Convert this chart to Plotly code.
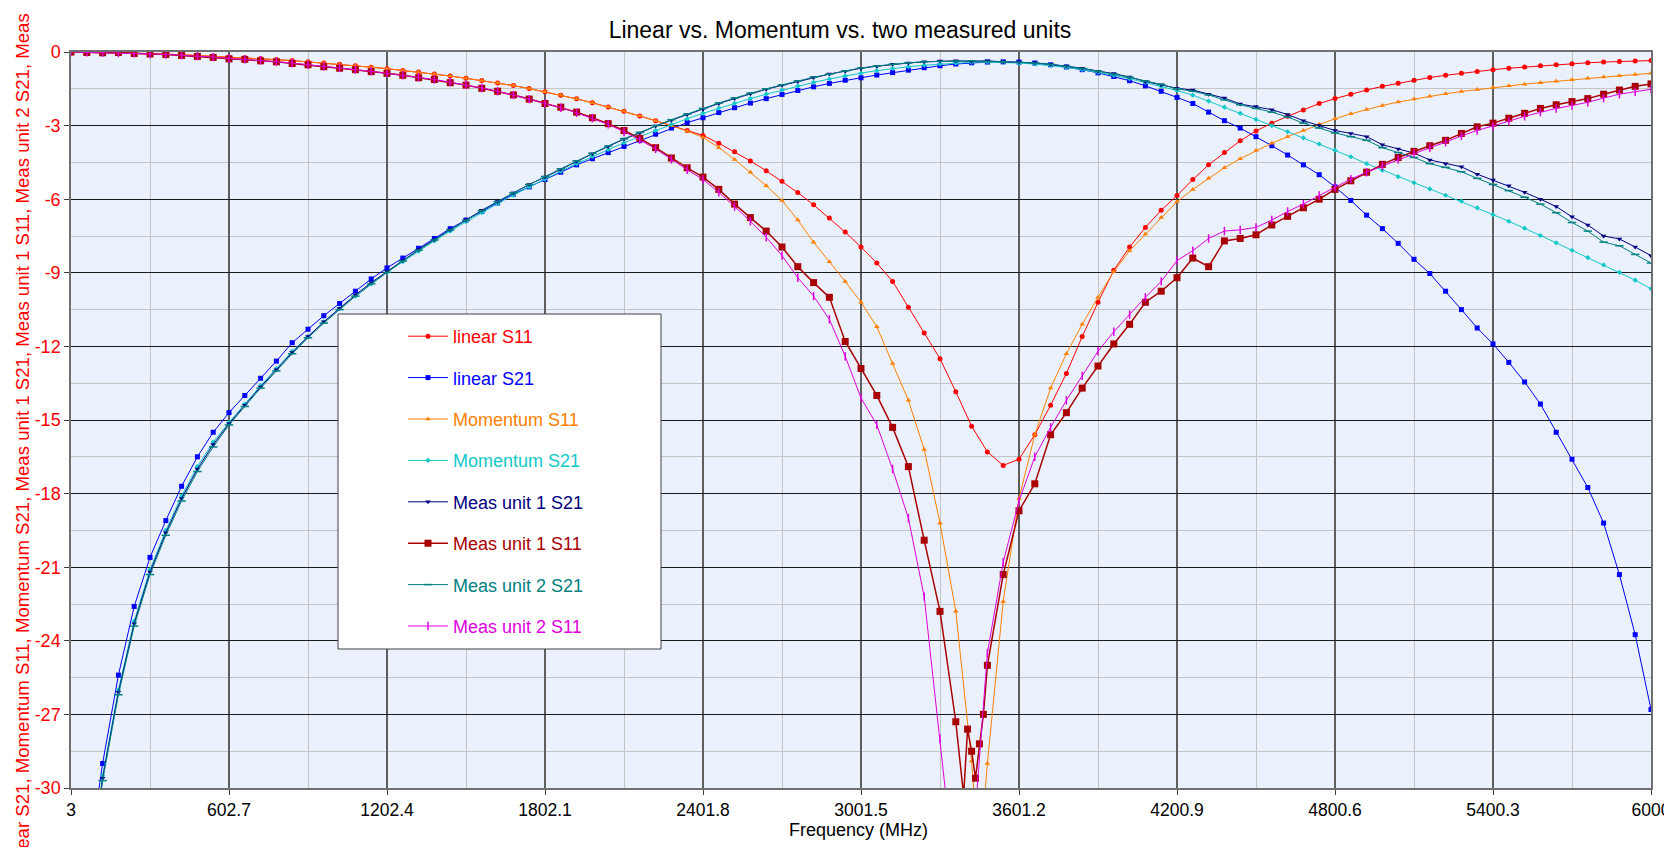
import numpy as np
import plotly.graph_objects as go

# frequency sweep (MHz), 101 points from 3 to 6000
FREQ = np.linspace(3, 6000, 101)

LIN_S11 = [0, -0.01, -0.02, -0.03, -0.05, -0.07, -0.09, -0.11, -0.14, -0.17,
           -0.2, -0.23, -0.27, -0.31, -0.35, -0.4, -0.45, -0.5, -0.56, -0.62,
           -0.68, -0.75, -0.82, -0.9, -0.98, -1.07, -1.16, -1.26, -1.37, -1.49,
           -1.62, -1.76, -1.91, -2.07, -2.24, -2.42, -2.61, -2.8, -3.0, -3.2,
           -3.4, -3.72, -4.07, -4.44, -4.84, -5.27, -5.73, -6.23, -6.77, -7.34,
           -7.95, -8.6, -9.35, -10.4, -11.45, -12.5, -13.85, -15.25, -16.3, -16.85,
           -16.6, -15.6, -14.4, -13.1, -11.6, -10.2, -8.9, -7.95, -7.15, -6.45,
           -5.85, -5.2, -4.6, -4.1, -3.62, -3.22, -2.9, -2.62, -2.36, -2.1,
           -1.9, -1.72, -1.55, -1.4, -1.27, -1.15, -1.04, -0.95, -0.87, -0.79,
           -0.72, -0.66, -0.61, -0.56, -0.52, -0.48, -0.44, -0.41, -0.39, -0.37, -0.35]

LIN_S21 = [None, -33.5, -29.0, -25.4, -22.6, -20.6, -19.1, -17.7, -16.5, -15.5,
           -14.7, -14.0, -13.3, -12.6, -11.85, -11.3, -10.75, -10.25, -9.75, -9.25,
           -8.8, -8.4, -8.0, -7.6, -7.2, -6.85, -6.5, -6.15, -5.8, -5.5,
           -5.2, -4.9, -4.6, -4.35, -4.1, -3.85, -3.6, -3.35, -3.1, -2.88,
           -2.68, -2.47, -2.27, -2.08, -1.9, -1.73, -1.57, -1.42, -1.28, -1.15,
           -1.05, -0.94, -0.84, -0.74, -0.64, -0.56, -0.49, -0.44, -0.41, -0.4,
           -0.41, -0.45, -0.52, -0.61, -0.72, -0.85, -1.0, -1.17, -1.38, -1.6,
           -1.85, -2.1, -2.45, -2.8, -3.1, -3.45, -3.82, -4.2, -4.6, -5.0,
           -5.5, -6.05, -6.65, -7.2, -7.8, -8.45, -9.03, -9.75, -10.5, -11.25,
           -11.9, -12.65, -13.45, -14.35, -15.5, -16.6, -17.75, -19.2, -21.3, -23.75, -26.8]

MOM_S11 = [0, -0.01, -0.02, -0.03, -0.05, -0.07, -0.09, -0.11, -0.14, -0.17,
           -0.2, -0.23, -0.27, -0.31, -0.35, -0.4, -0.45, -0.5, -0.56, -0.62,
           -0.68, -0.75, -0.82, -0.9, -0.98, -1.07, -1.16, -1.26, -1.37, -1.49,
           -1.62, -1.76, -1.91, -2.07, -2.24, -2.42, -2.61, -2.8, -3.0, -3.22,
           -3.48, -3.9, -4.38, -4.9, -5.45, -6.05, -6.85, -7.75, -8.55, -9.35,
           -10.2, -11.2, -12.7, -14.2, -16.2, -19.2, -22.8, -28.9, -29.0, -22.4,
           -18.2, -15.6, -13.7, -12.3, -11.1, -10.0, -8.95, -8.1, -7.42, -6.75,
           -6.1, -5.6, -5.15, -4.72, -4.35, -4.02, -3.72, -3.45, -3.2, -2.95,
           -2.72, -2.52, -2.34, -2.18, -2.04, -1.92, -1.8, -1.7, -1.61, -1.53,
           -1.45, -1.38, -1.31, -1.25, -1.19, -1.13, -1.07, -1.02, -0.97, -0.92, -0.87]

MOM_S21 = [None, -34.5, -29.5, -26.0, -23.2, -21.1, -19.5, -18.1, -16.9, -15.9,
           -15.1, -14.35, -13.6, -12.9, -12.2, -11.6, -11.0, -10.45, -9.95, -9.45,
           -8.98, -8.55, -8.12, -7.7, -7.3, -6.92, -6.55, -6.18, -5.83, -5.5,
           -5.18, -4.86, -4.55, -4.26, -3.98, -3.7, -3.45, -3.2, -2.95, -2.72,
           -2.5, -2.29, -2.09, -1.9, -1.72, -1.55, -1.39, -1.24, -1.1, -0.97,
           -0.86, -0.76, -0.67, -0.6, -0.54, -0.49, -0.45, -0.42, -0.41, -0.42,
           -0.45, -0.49, -0.55, -0.63, -0.72, -0.83, -0.95, -1.09, -1.24, -1.4,
           -1.57, -1.76, -2.0, -2.25, -2.5, -2.75, -3.0, -3.25, -3.5, -3.75,
           -4.0, -4.27, -4.55, -4.82, -5.08, -5.33, -5.58, -5.84, -6.08, -6.35,
           -6.63, -6.9, -7.18, -7.48, -7.78, -8.08, -8.38, -8.68, -8.98, -9.3, -9.65]

MEAS1_S21 = [None, -34.8, -29.6, -26.1, -23.3, -21.2, -19.6, -18.2, -17.0, -16.0,
             -15.15, -14.4, -13.65, -12.95, -12.25, -11.6, -11.0, -10.45, -9.9, -9.4,
             -8.95, -8.5, -8.05, -7.65, -7.25, -6.85, -6.45, -6.1, -5.75, -5.4,
             -5.1, -4.78, -4.45, -4.15, -3.85, -3.55, -3.3, -3.02, -2.78, -2.55,
             -2.33, -2.1, -1.9, -1.7, -1.52, -1.36, -1.2, -1.04, -0.9, -0.78,
             -0.66, -0.58, -0.5, -0.45, -0.4, -0.37, -0.36, -0.38, -0.36, -0.4,
             -0.41, -0.44, -0.5, -0.57, -0.66, -0.78, -0.88, -1.02, -1.2, -1.34,
             -1.48, -1.55, -1.72, -1.88, -2.12, -2.22, -2.35, -2.55, -2.8, -3.0,
             -3.2, -3.32, -3.45, -3.78, -3.95, -4.12, -4.4, -4.55, -4.68, -4.98,
             -5.22, -5.45, -5.72, -6.0, -6.3, -6.72, -7.05, -7.5, -7.62, -7.95, -8.3]

MEAS1_S11 = [0.0, -0.02, -0.03, -0.02, -0.06, -0.08, -0.1, -0.14, -0.18, -0.22,
             -0.28, -0.3, -0.36, -0.4, -0.47, -0.52, -0.6, -0.66, -0.72, -0.8,
             -0.87, -0.95, -1.05, -1.12, -1.25, -1.35, -1.48, -1.6, -1.75, -1.92,
             -2.1, -2.25, -2.45, -2.68, -2.92, -3.2, -3.52, -3.9, -4.32, -4.72,
             -5.1, -5.6, -6.2, -6.75, -7.3, -7.95, -8.75, -9.4, -10.0, -11.8,
             -12.9, -14.0, -15.3, -16.9, -19.9, -22.8, -27.3, -28.5, -25.0, -21.3,
             -18.7, -17.6, -15.6, -14.7, -13.7, -12.8, -11.9, -11.1, -10.2, -9.75,
             -9.2, -8.4, -8.75, -7.7, -7.6, -7.45, -7.05, -6.7, -6.35, -6.0,
             -5.6, -5.25, -4.9, -4.58, -4.3, -4.05, -3.82, -3.6, -3.32, -3.05,
             -2.9, -2.7, -2.5, -2.3, -2.15, -2.02, -1.9, -1.72, -1.55, -1.4, -1.3]

MEAS2_S21 = [None, -35.0, -29.7, -26.2, -23.4, -21.3, -19.7, -18.3, -17.1, -16.1,
             -15.2, -14.45, -13.7, -13.0, -12.3, -11.65, -11.05, -10.5, -9.95, -9.45,
             -8.98, -8.52, -8.08, -7.66, -7.25, -6.86, -6.47, -6.1, -5.74, -5.4,
             -5.08, -4.76, -4.44, -4.13, -3.83, -3.54, -3.28, -3.0, -2.76, -2.53,
             -2.3, -2.08, -1.88, -1.68, -1.5, -1.34, -1.18, -1.03, -0.9, -0.77,
             -0.65, -0.57, -0.5, -0.44, -0.4, -0.38, -0.37, -0.36, -0.38, -0.4,
             -0.42, -0.45, -0.5, -0.58, -0.67, -0.78, -0.9, -1.03, -1.18, -1.32,
             -1.5, -1.6, -1.75, -1.95, -2.15, -2.3, -2.45, -2.65, -2.9, -3.1,
             -3.3, -3.45, -3.6, -3.9, -4.1, -4.3, -4.55, -4.7, -4.88, -5.15,
             -5.4, -5.65, -5.92, -6.2, -6.55, -6.95, -7.3, -7.75, -7.9, -8.25, -8.6]

MEAS2_S11 = [0.0, -0.01, -0.03, -0.04, -0.05, -0.08, -0.1, -0.13, -0.17, -0.21,
             -0.26, -0.3, -0.34, -0.4, -0.45, -0.52, -0.58, -0.65, -0.72, -0.79,
             -0.87, -0.95, -1.03, -1.12, -1.23, -1.34, -1.47, -1.6, -1.75, -1.92,
             -2.1, -2.27, -2.48, -2.7, -2.95, -3.25, -3.58, -3.95, -4.38, -4.8,
             -5.2, -5.72, -6.3, -6.9, -7.55, -8.3, -9.2, -9.95, -10.9, -12.4,
             -14.1, -15.2, -17.0, -19.0, -22.2, -28.0, -34.0, -33.0, -24.5, -20.8,
             -18.3, -16.5, -15.3, -14.2, -13.2, -12.2, -11.4, -10.7, -10.0, -9.35,
             -8.5, -8.1, -7.6, -7.3, -7.25, -7.15, -6.85, -6.5, -6.2, -5.85,
             -5.5, -5.18, -4.9, -4.65, -4.38, -4.12, -3.9, -3.68, -3.42, -3.2,
             -3.02, -2.82, -2.62, -2.45, -2.3, -2.18, -2.05, -1.88, -1.72, -1.62, -1.52]

# extra samples read in the notch
NOTCH_FREQ_MOM = [3451]
MOM_S11_NOTCH = [-33.0]
NOTCH_FREQ_M1 = [3391, 3406, 3436, 3451, 3466]
MEAS1_S11_NOTCH = [-30.3, -27.6, -29.6, -28.2, -27.0]

X_TICKS = [3, 602.7, 1202.4, 1802.1, 2401.8, 3001.5, 3601.2, 4200.9, 4800.6, 5400.3, 6000]
Y_TICKS = [0, -3, -6, -9, -12, -15, -18, -21, -24, -27, -30]

NAMES = ["linear S11", "linear S21", "Momentum S11", "Momentum S21",
         "Meas unit 1 S21", "Meas unit 1 S11", "Meas unit 2 S21", "Meas unit 2 S11"]
COLORS = ["#FF0000", "#0000FF", "#FF8000", "#10C8C8",
          "#000080", "#A80000", "#008080", "#E000E0"]


def merge(f, y, f2=(), y2=()):
    pts = sorted(zip(list(f) + list(f2), list(y) + list(y2)), key=lambda p: p[0])
    return [p[0] for p in pts], [p[1] for p in pts]


series = [
    merge(FREQ, LIN_S11),
    merge(FREQ, LIN_S21),
    merge(FREQ, MOM_S11, NOTCH_FREQ_MOM, MOM_S11_NOTCH),
    merge(FREQ, MOM_S21),
    merge(FREQ, MEAS1_S21),
    merge(FREQ, MEAS1_S11, NOTCH_FREQ_M1, MEAS1_S11_NOTCH),
    merge(FREQ, MEAS2_S21),
    merge(FREQ, MEAS2_S11),
]

markers = [
    dict(symbol="circle", size=5),
    dict(symbol="square", size=5),
    dict(symbol="triangle-up", size=5),
    dict(symbol="diamond", size=4),
    dict(symbol="triangle-down", size=5),
    dict(symbol="square", size=7),
    dict(symbol="line-ew", size=6, line=dict(width=1.5, color=COLORS[6])),
    dict(symbol="line-ns", size=6, line=dict(width=1.5, color=COLORS[7])),
]
widths = [1, 1, 1, 1, 1, 1.5, 1, 1]

fig = go.Figure()
for k, (x, y) in enumerate(series):
    mk = dict(color=COLORS[k])
    mk.update(markers[k])
    fig.add_trace(go.Scatter(
        x=x, y=y, mode="lines+markers",
        name=f"<span style='color:{COLORS[k]}'>{NAMES[k]}</span>",
        legendgroup=f"g{k}",
        line=dict(color=COLORS[k], width=widths[k]),
        marker=mk,
    ))

# page offset of the figure (body margin)
OFF = 8
W, H = 1672 - OFF, 847 - OFF
# plot area in page pixels: x 71..1651, y 52..788
L, R, T, B = 71, 1651, 52, 788
def px_x(p):
    return (p - L) / (R - L)
def px_y(p):
    return (B - p) / (B - T)

# legend frame
fig.add_shape(type="rect", xref="paper", yref="paper",
              x0=px_x(338), x1=px_x(661), y0=px_y(649), y1=px_y(314),
              fillcolor="white", line=dict(color="#404040", width=1), layer="above")

fig.add_annotation(text="linear S11, linear S21, Momentum S11, Momentum S21, Meas unit 1 S21, "
                        "Meas unit 1 S11, Meas unit 2 S21, Meas unit 2 S11",
                   xref="paper", yref="paper", x=px_x(22), y=px_y(443),
                   textangle=-90, showarrow=False, xanchor="center", yanchor="middle",
                   font=dict(family="Liberation Sans, Arial", size=18.6, color="#FF0000"))
fig.add_annotation(text="Frequency (MHz)", xref="paper", yref="paper",
                   x=px_x(858), y=px_y(830), showarrow=False,
                   xanchor="center", yanchor="middle",
                   font=dict(family="Liberation Sans, Arial", size=18, color="black"))

fig.update_xaxes(range=[3, 6000], tickvals=X_TICKS, ticktext=[f"{v:g}" for v in X_TICKS],
                 showgrid=True, gridcolor="#5E5E5E", gridwidth=1.5,
                 minor=dict(tickvals=[(a + b) / 2 for a, b in zip(X_TICKS[:-1], X_TICKS[1:])],
                            showgrid=True, gridcolor="#C4C4C4", gridwidth=1, ticks=""),
                 ticks="outside", ticklen=5, tickcolor="#404040",
                 showline=True, mirror=True, linecolor="#707070", linewidth=1.5,
                 zeroline=False,
                 tickfont=dict(family="Liberation Sans, Arial", size=17.5, color="black"))
fig.update_yaxes(range=[-30, 0], tickvals=Y_TICKS, ticktext=[str(v) for v in Y_TICKS],
                 showgrid=True, gridcolor="#1A1A1A", gridwidth=1,
                 minor=dict(tickvals=[v - 1.5 for v in Y_TICKS[:-1]],
                            showgrid=True, gridcolor="#C4C4C4", gridwidth=1, ticks=""),
                 ticks="outside", ticklen=5, tickcolor="#404040",
                 showline=True, mirror=True, linecolor="#707070", linewidth=1.5,
                 zeroline=False,
                 tickfont=dict(family="Liberation Sans, Arial", size=18, color="#FF0000"))

fig.update_layout(
    width=W, height=H,
    margin=dict(l=L - OFF, r=W - (R - OFF), t=T - OFF, b=H - (B - OFF), autoexpand=False),
    paper_bgcolor="white", plot_bgcolor="#EAF0FC",
    title=dict(text="Linear vs. Momentum vs. two measured units", x=0.5, xanchor="center",
               y=1 - (30 - OFF) / H, yanchor="middle",
               font=dict(family="Liberation Sans, Arial", size=23, color="black")),
    legend=dict(x=px_x(403), y=px_y(318), xanchor="left", yanchor="top",
                bgcolor="rgba(0,0,0,0)", borderwidth=0, tracegroupgap=15,
                itemwidth=40,
                font=dict(family="Liberation Sans, Arial", size=18)),
    showlegend=True,
)

fig.write_html("out.html")
